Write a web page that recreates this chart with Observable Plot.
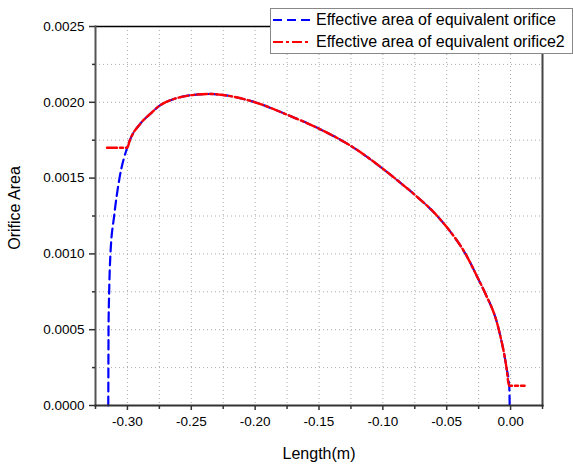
<!DOCTYPE html>
<html>
<head>
<meta charset="utf-8">
<script src="https://cdn.jsdelivr.net/npm/d3@7"></script>
<script src="https://cdn.jsdelivr.net/npm/@observablehq/plot@0.6"></script>
<style>
  body { margin: 0; background: #fff; font-family: "Liberation Sans", Arial, sans-serif; }
  #wrap { position: relative; width: 573px; height: 466px; }
  #legend { position: absolute; left: 270px; top: 8px; width: 301px; height: 44px; border: 1px solid #888; background: #fff; }
  .row { position: absolute; left: 0; height: 22px; display: flex; align-items: center; font-size: 16px; color: #000; white-space: nowrap; }
  .row svg { margin-left: 2px; margin-right: 5px; }
</style>
</head>
<body>
<div id="wrap">
  <div id="chart"></div>
  <div id="legend"></div>
</div>
<script>
const seriesNames = ["Effective area of equivalent orifice", "Effective area of equivalent orifice2"];
const seriesColors = ["#0000ff", "#ff0000"];
const seriesDash = ["9,5", "10,3,3,3"];

const blueX = [-0.3150, -0.3149, -0.3148, -0.3143, -0.3133, -0.3104, -0.3062, -0.3002, -0.2981, -0.2898, -0.2819, -0.2750, -0.2702, -0.2584, -0.2500, -0.2350, -0.2271, -0.2000, -0.1750, -0.1500, -0.1250, -0.1000, -0.0864, -0.0750, -0.0574, -0.0500, -0.0353, -0.0250, -0.0204, -0.0092, -0.0032, -0.0010, -0.0007];
const blueY = [0, 0.00025, 0.0005, 0.00075, 0.0010, 0.00125, 0.0015, 0.0017, 0.00175, 0.00186, 0.001925, 0.001977, 0.0020, 0.002034, 0.002047, 0.002055, 0.00205, 0.0020, 0.001918, 0.001826, 0.001712, 0.001562, 0.00147, 0.00139, 0.00125, 0.001177, 0.0010, 0.00083, 0.00075, 0.0005, 0.00025, 0.00012, 0];

const redX = [-0.3160, -0.3002, -0.2981, -0.2898, -0.2819, -0.2750, -0.2702, -0.2584, -0.2500, -0.2350, -0.2271, -0.2000, -0.1750, -0.1500, -0.1250, -0.1000, -0.0864, -0.0750, -0.0574, -0.0500, -0.0353, -0.0250, -0.0204, -0.0092, -0.0032, -0.0012, 0.0110];
const redY = [0.0017, 0.0017, 0.00175, 0.00186, 0.001925, 0.001977, 0.0020, 0.002034, 0.002047, 0.002055, 0.00205, 0.0020, 0.001918, 0.001826, 0.001712, 0.001562, 0.00147, 0.00139, 0.00125, 0.001177, 0.0010, 0.00083, 0.00075, 0.0005, 0.00025, 0.00013, 0.00013];

const xMajor = [-0.30, -0.25, -0.20, -0.15, -0.10, -0.05, 0.00];
const xMinor = [-0.325, -0.275, -0.225, -0.175, -0.125, -0.075, -0.025, 0.025];
const yMajor = [0, 0.0005, 0.0010, 0.0015, 0.0020, 0.0025];
const yMinor = [0.00025, 0.00075, 0.00125, 0.00175, 0.00225];

const blue = blueX.map((x, i) => ({x, y: blueY[i]}));
const red = redX.map((x, i) => ({x, y: redY[i]}));

const fmtX = d => (Math.abs(d) < 1e-9 ? 0 : d).toFixed(2);
const fmtY = d => d.toFixed(4);
const gridStyle = {stroke: "#aaa", strokeOpacity: 1, strokeDasharray: "1,3"};

const chart = Plot.plot({
  width: 573,
  height: 466,
  marginLeft: 95,
  marginRight: 31,
  marginTop: 26,
  marginBottom: 61,
  style: {fontFamily: "'Liberation Sans', Arial, sans-serif", fontSize: "14px", color: "#000", background: "#fff"},
  x: {domain: [-0.325, 0.025]},
  y: {domain: [0, 0.0025]},
  marks: [
    Plot.gridX(xMajor.concat(xMinor), gridStyle),
    Plot.gridY(yMajor.concat(yMinor), gridStyle),
    Plot.line(blue, {x: "x", y: "y", curve: "monotone-x", stroke: seriesColors[0], strokeWidth: 2.2, strokeDasharray: seriesDash[0]}),
    Plot.line(red, {x: "x", y: "y", curve: "monotone-x", stroke: seriesColors[1], strokeWidth: 2.4, strokeDasharray: seriesDash[1]}),
    Plot.frame({anchor: "top", stroke: "#000", strokeWidth: 1.5}),
    Plot.frame({anchor: "right", stroke: "#444", strokeWidth: 2}),
    Plot.frame({anchor: "left", stroke: "#555", strokeWidth: 2}),
    Plot.frame({anchor: "bottom", stroke: "#333", strokeWidth: 2}),
    Plot.axisX(xMajor, {tickSize: 5, tickPadding: 6, tickFormat: fmtX, label: null, stroke: "#333", strokeWidth: 1.5}),
    Plot.axisX(xMinor, {tickSize: 4, tickFormat: null, text: null, label: null, stroke: "#333", strokeWidth: 1.5}),
    Plot.axisY(yMajor, {tickSize: 6, tickPadding: 5, tickFormat: fmtY, label: null, stroke: "#333", strokeWidth: 1.5}),
    Plot.axisY(yMinor, {tickSize: 3, tickFormat: null, text: null, label: null, stroke: "#333", strokeWidth: 1.5}),
    Plot.text(["Length(m)"], {frameAnchor: "bottom", dy: 48, lineAnchor: "middle", textAnchor: "middle", fontSize: 16, fill: "#000"}),
    Plot.text(["Orifice Area"], {frameAnchor: "left", dx: -81, dy: -8, rotate: -90, lineAnchor: "middle", textAnchor: "middle", fontSize: 16, fill: "#000"})
  ]
});
document.getElementById("chart").appendChild(chart);
d3.select(chart).selectAll('g[aria-label*="tick label"], g[aria-label*="tick label"] text').style("font-size", "13.5px");

const legend = document.getElementById("legend");
seriesNames.forEach((name, i) => {
  const row = document.createElement("div");
  row.className = "row";
  row.style.top = (i === 0 ? 0 : 22) + "px";
  row.innerHTML = `<svg width="38" height="10"><line x1="0" y1="5" x2="38" y2="5" stroke="${seriesColors[i]}" stroke-width="2" stroke-dasharray="${seriesDash[i]}"/></svg><span>${name}</span>`;
  legend.appendChild(row);
});
</script>
</body>
</html>
